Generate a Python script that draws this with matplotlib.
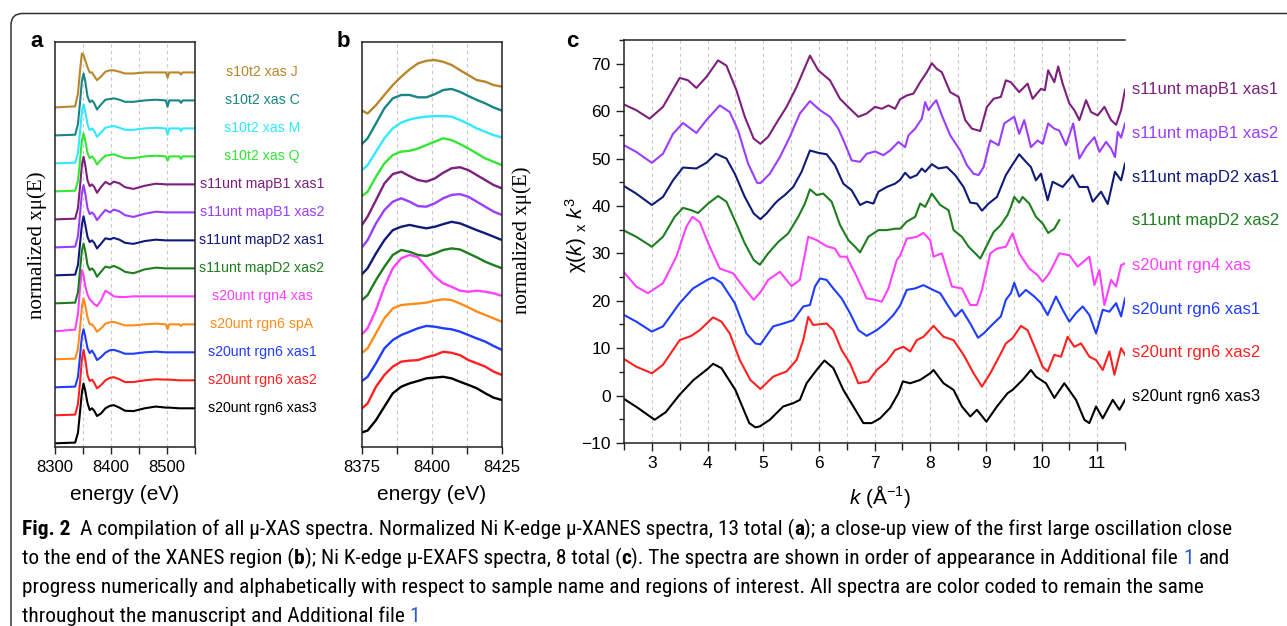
"""Fig. 2 - micro-XAS spectra: XANES (a), XANES close-up (b), EXAFS (c)."""

import matplotlib

matplotlib.use("Agg")
import matplotlib.pyplot as plt
from matplotlib.patches import PathPatch
from matplotlib.path import Path
from matplotlib.ticker import MultipleLocator

W, H = 1287, 626
SANS = "Liberation Sans"
SERIF = "Liberation Serif"
CAPTION = ["Roboto Condensed", "DejaVu Sans Condensed", "Liberation Sans Narrow",
           "Open Sans", "DejaVu Sans"]
LN = "#222222"
GRID = "#c8c8c8"

plt.rcParams.update({
    "font.family": SANS,
    "mathtext.fontset": "custom",
    "mathtext.rm": SANS,
    "mathtext.it": SANS + ":italic",
    "mathtext.bf": SANS + ":bold",
    "axes.linewidth": 1.1,
    "axes.edgecolor": LN,
})

# ------------------------------------------------------------------
# data: names (bottom -> top) and colours
# ------------------------------------------------------------------
names = ["s20unt rgn6 xas3", "s20unt rgn6 xas2", "s20unt rgn6 xas1",
         "s20unt rgn6 spA", "s20unt rgn4 xas", "s11unt mapD2 xas2",
         "s11unt mapD2 xas1", "s11unt mapB1 xas2", "s11unt mapB1 xas1",
         "s10t2 xas Q", "s10t2 xas M", "s10t2 xas C", "s10t2 xas J"]
colors = ["#000000", "#ff2020", "#1f3cff", "#ff8c1a", "#ff40ff", "#1e7d1e",
          "#101a78", "#9b3dff", "#7d1f7d", "#33e633", "#30e8ff", "#1a8585",
          "#b8862b"]

# panel a: normalized XANES
E_A = [8300, 8336, 8341, 8345, 8348, 8351, 8354, 8358, 8362, 8366, 8370, 8375,
       8382, 8390, 8398, 8405, 8415, 8425, 8440, 8460, 8480, 8498, 8501, 8504,
       8522, 8525, 8528, 8550]
a_xas3 = [0.00, 0.02, 0.30, 0.95, 1.45, 1.71, 1.50, 1.15, 0.95, 1.00, 0.93, 0.78, 0.85, 1.00,
          1.07, 1.09, 1.02, 0.93, 0.92, 1.00, 1.05, 1.02, 1.02, 1.02, 1.00, 1.00, 1.00, 1.00]
a_xas2 = [0.00, 0.02, 0.32, 1.00, 1.60, 1.87, 1.60, 1.15, 0.98, 1.02, 0.93, 0.77, 0.86, 1.00,
          1.07, 1.09, 1.03, 0.95, 0.95, 1.00, 1.03, 1.02, 1.02, 1.02, 1.00, 1.00, 1.00, 1.00]
a_xas1 = [0.00, 0.02, 0.30, 0.95, 1.45, 1.66, 1.45, 1.12, 0.98, 1.05, 0.95, 0.78, 0.86, 0.99,
          1.06, 1.07, 1.02, 0.96, 0.96, 1.00, 1.02, 1.00, 1.00, 1.00, 1.00, 1.00, 1.00, 1.00]
a_spA = [0.00, 0.02, 0.30, 0.95, 1.50, 1.74, 1.55, 1.20, 1.00, 1.00, 0.92, 0.79, 0.88, 1.02,
         1.06, 1.07, 1.02, 0.97, 0.97, 1.00, 1.02, 1.00, 0.86, 1.00, 1.00, 0.95, 1.00, 1.00]
a_rgn4 = [0.00, 0.05, 0.50, 1.30, 1.75, 1.60, 1.30, 1.05, 0.92, 0.85, 0.78, 0.72, 0.88, 1.16,
          1.08, 1.00, 0.98, 0.98, 1.00, 1.00, 1.00, 1.00, 1.00, 1.00, 1.00, 1.00, 1.00, 1.00]
a_d2x2 = [0.00, 0.02, 0.32, 1.00, 1.50, 1.71, 1.50, 1.10, 0.95, 1.00, 0.93, 0.76, 0.90, 1.05,
          1.02, 1.07, 1.00, 0.90, 0.86, 0.97, 1.02, 1.00, 1.00, 1.00, 1.00, 1.00, 1.00, 1.00]
a_d2x1 = [0.00, 0.02, 0.30, 0.95, 1.45, 1.69, 1.45, 1.10, 0.95, 1.00, 0.93, 0.77, 0.90, 1.06,
          1.03, 1.07, 1.02, 0.93, 0.90, 0.98, 1.02, 1.00, 1.00, 1.00, 1.00, 1.00, 1.00, 1.00]
a_b1x2 = [0.00, 0.02, 0.32, 1.00, 1.55, 1.78, 1.55, 1.12, 0.95, 1.00, 0.93, 0.78, 0.92, 1.07,
          1.00, 1.08, 1.03, 0.92, 0.87, 0.96, 1.02, 1.00, 1.00, 1.00, 1.00, 1.00, 1.00, 1.00]
a_b1x1 = [0.00, 0.02, 0.32, 1.00, 1.55, 1.79, 1.55, 1.12, 0.95, 1.00, 0.93, 0.76, 0.92, 1.07,
          1.00, 1.08, 1.03, 0.92, 0.87, 0.96, 1.02, 1.00, 1.00, 1.00, 1.00, 1.00, 1.00, 1.00]
a_Q = [0.00, 0.02, 0.30, 0.95, 1.45, 1.66, 1.45, 1.10, 0.95, 1.00, 0.93, 0.77, 0.90, 1.02,
       1.04, 1.06, 1.00, 0.95, 0.95, 1.00, 1.02, 1.00, 0.88, 1.00, 1.00, 0.93, 1.00, 1.00]
a_M = [0.00, 0.02, 0.30, 0.95, 1.48, 1.69, 1.48, 1.12, 0.95, 1.00, 0.93, 0.76, 0.88, 1.02,
       1.05, 1.07, 1.02, 0.96, 0.96, 1.00, 1.02, 1.00, 0.82, 1.00, 1.00, 0.93, 1.00, 1.00]
a_C = [0.00, 0.02, 0.32, 1.00, 1.55, 1.77, 1.55, 1.12, 0.95, 1.00, 0.92, 0.74, 0.88, 1.02,
       1.04, 1.06, 1.02, 0.96, 0.96, 1.00, 1.02, 1.00, 0.82, 1.00, 1.00, 0.93, 1.00, 1.00]
a_J = [0.00, 0.03, 0.40, 1.10, 1.54, 1.50, 1.35, 1.15, 1.00, 1.00, 0.90, 0.78, 0.88, 1.02,
       1.06, 1.06, 1.02, 0.97, 0.97, 1.00, 1.00, 1.00, 0.85, 1.00, 1.00, 0.94, 1.00, 1.00]

# panel b: close-up of the first oscillation
E_B = [8375, 8377, 8380, 8383, 8386, 8389, 8392, 8395, 8398, 8401, 8404, 8407,
       8410, 8413, 8416, 8419, 8422, 8425]
b_xas3 = [0.56, 0.63, 1.03, 1.55, 2.06, 2.31, 2.44, 2.53, 2.63, 2.66, 2.69, 2.63, 2.50, 2.38, 2.25, 2.06, 1.89, 1.80]
b_xas2 = [0.48, 0.67, 1.31, 1.76, 2.08, 2.27, 2.31, 2.33, 2.44, 2.52, 2.65, 2.61, 2.52, 2.33, 2.21, 2.08, 1.89, 1.76]
b_xas1 = [0.53, 0.69, 1.21, 1.78, 2.10, 2.29, 2.42, 2.55, 2.64, 2.61, 2.55, 2.51, 2.42, 2.29, 2.16, 2.04, 1.87, 1.72]
b_spA = [0.61, 0.78, 1.36, 1.93, 2.31, 2.44, 2.47, 2.50, 2.53, 2.61, 2.66, 2.63, 2.50, 2.35, 2.19, 2.06, 1.93, 1.80]
b_rgn4 = [0.32, 0.55, 1.25, 2.14, 2.85, 3.23, 3.36, 3.27, 2.91, 2.53, 2.27, 2.14, 1.99, 1.95, 1.99, 1.95, 1.89, 1.79]
b_d2x2 = [0.63, 0.82, 1.40, 1.91, 2.36, 2.55, 2.48, 2.36, 2.32, 2.42, 2.55, 2.61, 2.57, 2.42, 2.27, 2.10, 1.97, 1.85]
b_d2x1 = [0.62, 0.85, 1.42, 1.93, 2.31, 2.44, 2.51, 2.44, 2.38, 2.44, 2.54, 2.63, 2.57, 2.44, 2.31, 2.19, 2.06, 1.93]
b_b1x2 = [0.65, 0.93, 1.57, 2.08, 2.40, 2.53, 2.40, 2.23, 2.21, 2.34, 2.53, 2.66, 2.69, 2.59, 2.40, 2.21, 2.02, 1.89]
b_b1x1 = [0.51, 0.83, 1.46, 2.10, 2.46, 2.55, 2.38, 2.23, 2.17, 2.29, 2.51, 2.68, 2.72, 2.61, 2.42, 2.23, 2.04, 1.91]
b_Q = [0.62, 0.78, 1.36, 1.87, 2.19, 2.32, 2.35, 2.44, 2.57, 2.70, 2.83, 2.76, 2.61, 2.44, 2.25, 2.06, 1.93, 1.80]
b_M = [0.61, 0.80, 1.32, 1.83, 2.21, 2.43, 2.55, 2.62, 2.66, 2.68, 2.68, 2.66, 2.53, 2.38, 2.21, 2.08, 1.95, 1.86]
b_C = [0.61, 0.83, 1.40, 1.98, 2.36, 2.49, 2.49, 2.40, 2.40, 2.52, 2.68, 2.72, 2.61, 2.45, 2.30, 2.17, 2.01, 1.89]
b_J = [0.89, 0.78, 1.10, 1.49, 1.87, 2.19, 2.47, 2.70, 2.80, 2.83, 2.76, 2.64, 2.44, 2.25, 2.06, 2.00, 1.87, 1.81]

# panel c: k^3-weighted EXAFS (values as plotted, offsets included)
k_xas3 = [2.50, 2.75, 3.05, 3.25, 3.50, 3.75, 4.00, 4.10, 4.25, 4.50, 4.75, 4.86, 4.94, 5.12,
          5.36, 5.54, 5.66, 5.78, 5.96, 6.10, 6.26, 6.44, 6.62, 6.80, 6.95, 7.10, 7.28, 7.43,
          7.51, 7.64, 7.82, 8.00, 8.06, 8.24, 8.42, 8.57, 8.72, 8.84, 9.01, 9.20, 9.39, 9.48,
          9.66, 9.81, 9.90, 10.08, 10.23, 10.41, 10.62, 10.77, 10.86, 10.98, 11.10, 11.28,
          11.40, 11.50]
chi_xas3 = [-0.7, -2.6, -5.1, -3.5, 0.2, 3.3, 5.6, 6.7, 5.8, 1.2, -5.8, -6.7, -6.5, -5.1,
            -2.3, -1.6, -0.9, 2.6, 5.4, 7.4, 5.8, 1.2, -2.3, -5.8, -5.8, -4.8, -2.6, 0.5,
            3.0, 2.6, 3.3, 4.7, 5.4, 2.6, 1.2, -2.3, -4.4, -3.0, -5.5, -2.3, 0.5, 1.2,
            3.3, 5.4, 4.0, 2.6, -0.5, 2.6, -0.9, -5.1, -5.8, -2.3, -4.8, -0.9, -3.0, -0.9]
k_xas2 = [2.50, 2.72, 3.00, 3.20, 3.50, 3.71, 3.86, 4.10, 4.25, 4.40, 4.58, 4.77, 4.95, 5.18,
          5.42, 5.60, 5.72, 5.81, 5.90, 6.14, 6.26, 6.41, 6.56, 6.71, 6.89, 7.04, 7.22, 7.37,
          7.52, 7.64, 7.76, 7.88, 8.06, 8.24, 8.42, 8.60, 8.78, 8.93, 9.08, 9.27, 9.36, 9.48,
          9.63, 9.75, 9.90, 10.02, 10.11, 10.23, 10.35, 10.47, 10.59, 10.71, 10.86, 10.98,
          11.10, 11.22, 11.31, 11.43, 11.50]
chi_xas2 = [7.7, 6.1, 4.7, 6.5, 11.7, 12.6, 13.8, 16.5, 15.6, 13.1, 7.5, 3.3, 1.4, 4.0,
            5.1, 7.5, 11.7, 16.6, 14.9, 15.2, 13.8, 9.6, 6.8, 2.6, 3.0, 5.4, 7.2, 9.6,
            10.3, 9.3, 11.7, 12.4, 14.7, 12.4, 11.7, 8.6, 4.7, 1.9, 4.7, 8.9, 11.0, 12.1,
            14.7, 13.8, 9.6, 6.1, 5.1, 8.6, 8.2, 12.4, 10.3, 11.0, 8.2, 7.5,
            5.4, 9.3, 4.4, 10.0, 8.6]
k_xas1 = [2.50, 2.72, 3.00, 3.20, 3.50, 3.74, 4.01, 4.10, 4.25, 4.49, 4.70, 4.86, 4.95, 5.18,
          5.36, 5.54, 5.72, 5.84, 5.93, 6.02, 6.14, 6.26, 6.41, 6.56, 6.71, 6.86, 7.04, 7.19,
          7.34, 7.46, 7.58, 7.73, 7.88, 8.03, 8.18, 8.33, 8.45, 8.57, 8.72, 8.86, 8.96, 9.11,
          9.27, 9.36, 9.45, 9.51, 9.60, 9.72, 9.87, 9.99, 10.11, 10.26, 10.38, 10.50, 10.62,
          10.74, 10.86, 10.98, 11.10, 11.22, 11.34, 11.43, 11.50]
chi_xas1 = [17.0, 15.6, 13.5, 14.6, 19.5, 22.6, 24.5, 24.9, 23.8, 19.5, 13.1, 11.0, 10.8, 14.6,
            15.2, 15.9, 18.8, 19.1, 23.0, 24.7, 24.4, 22.6, 20.5, 17.4, 13.8, 12.6, 13.8, 15.2,
            17.0, 19.0, 22.3, 22.6, 23.3, 22.4, 21.6, 18.8, 16.7, 18.1, 15.2, 12.2, 13.1, 14.9,
            16.7, 20.2, 21.6, 23.8, 20.9, 22.3, 20.9, 19.5, 17.0, 20.9, 18.1, 15.6, 17.4,
            18.8, 17.0, 13.1, 18.1, 17.7, 19.5, 16.7, 20.5]
k_rgn4 = [2.50, 2.72, 2.93, 3.20, 3.44, 3.62, 3.73, 3.86, 4.04, 4.22, 4.46, 4.64, 4.83, 4.95,
          5.09, 5.30, 5.51, 5.66, 5.81, 5.96, 6.14, 6.29, 6.38, 6.50, 6.68, 6.86, 7.01, 7.13,
          7.25, 7.40, 7.46, 7.58, 7.76, 7.88, 8.00, 8.06, 8.21, 8.30, 8.39, 8.57, 8.72, 8.84,
          8.93, 9.08, 9.20, 9.36, 9.48, 9.60, 9.78, 9.93, 10.02, 10.14, 10.32, 10.50, 10.65,
          10.86, 10.95, 11.04, 11.13, 11.25, 11.34, 11.43, 11.50]
chi_rgn4 = [26.0, 23.0, 21.6, 23.7, 29.3, 35.6, 37.7, 36.6, 31.4, 26.8, 25.8, 23.0, 20.2, 21.8,
            24.4, 26.1, 23.1, 24.4, 33.5, 32.8, 31.5, 31.0, 29.3, 29.3, 25.1, 20.5, 20.2, 19.8,
            22.6, 28.6, 29.5, 33.1, 33.5, 34.3, 32.8, 29.3, 30.0, 26.5, 23.0, 22.6, 19.1, 19.1,
            22.3, 30.0, 31.0, 31.4, 34.2, 30.0, 26.8, 25.4, 24.0, 25.8, 30.0, 29.6, 27.2,
            29.3, 23.3, 26.5, 19.1, 24.4, 23.0, 27.5, 27.9]
k_d2x2 = [2.50, 2.72, 3.00, 3.20, 3.41, 3.56, 3.71, 3.83, 4.01, 4.19, 4.34, 4.49, 4.67, 4.83,
          4.94, 5.09, 5.27, 5.45, 5.63, 5.75, 5.84, 5.96, 6.08, 6.23, 6.38, 6.53, 6.65, 6.74,
          6.89, 7.07, 7.22, 7.37, 7.46, 7.58, 7.73, 7.82, 7.91, 8.03, 8.18, 8.33, 8.42, 8.57,
          8.69, 8.81, 8.90, 9.02, 9.14, 9.27, 9.39, 9.45, 9.51, 9.60, 9.66, 9.78, 9.90,
          10.02, 10.12, 10.23, 10.32]
chi_d2x2 = [34.8, 33.5, 31.4, 33.5, 37.7, 39.6, 39.1, 38.5, 40.5, 42.1, 40.9, 37.0, 32.1, 28.6,
            27.6, 30.0, 32.4, 34.2, 37.7, 40.5, 43.5, 42.3, 42.6, 40.9, 36.0, 32.8, 31.4, 30.2,
            33.5, 34.9, 34.9, 35.2, 35.2, 36.7, 37.7, 40.5, 39.8, 42.6, 40.2, 39.1, 34.9, 33.5,
            31.4, 30.0, 28.9, 31.7, 34.5, 36.0, 38.1, 39.8, 41.9, 40.7, 41.9, 40.5, 37.7,
            36.3, 34.3, 35.2, 37.0]
k_d2x1 = [2.50, 2.72, 3.00, 3.20, 3.38, 3.56, 3.80, 3.98, 4.15, 4.34, 4.49, 4.67, 4.83, 4.95,
          5.06, 5.21, 5.27, 5.39, 5.54, 5.69, 5.84, 5.99, 6.14, 6.29, 6.44, 6.59, 6.74, 6.86,
          6.98, 7.07, 7.22, 7.37, 7.46, 7.55, 7.64, 7.76, 7.85, 7.91, 8.03, 8.15, 8.30, 8.45,
          8.60, 8.72, 8.84, 8.93, 9.05, 9.20, 9.36, 9.45, 9.60, 9.72, 9.81, 9.90, 9.99, 10.11,
          10.20, 10.38, 10.56, 10.68, 10.83, 10.92, 11.07, 11.19, 11.32, 11.43, 11.50]
chi_d2x1 = [44.2, 42.6, 40.2, 41.9, 45.4, 48.1, 47.9, 49.1, 51.0, 50.0, 46.8, 41.9, 38.4, 37.2,
            38.4, 40.5, 41.2, 42.3, 44.0, 47.2, 51.7, 51.2, 50.9, 48.6, 44.7, 43.3, 40.2, 40.9,
            40.5, 43.0, 44.0, 44.7, 45.5, 47.0, 45.9, 46.5, 47.9, 47.2, 48.8, 47.9, 48.2, 46.5,
            44.0, 40.7, 40.5, 39.0, 40.5, 41.9, 46.5, 48.2, 50.9, 49.3, 48.2, 45.4, 46.8, 41.2,
            45.1, 44.0, 46.5, 44.0, 44.0, 40.9, 43.0, 40.4, 47.2, 45.4, 48.9]
k_b1x2 = [2.50, 2.72, 3.00, 3.20, 3.38, 3.56, 3.80, 3.98, 4.22, 4.40, 4.55, 4.73, 4.89, 4.95,
          5.12, 5.30, 5.48, 5.66, 5.84, 6.02, 6.20, 6.35, 6.47, 6.59, 6.74, 6.86, 7.01, 7.16,
          7.28, 7.43, 7.55, 7.61, 7.73, 7.85, 7.91, 7.97, 8.03, 8.11, 8.21, 8.36, 8.54, 8.66,
          8.78, 8.87, 8.96, 9.08, 9.23, 9.33, 9.42, 9.51, 9.60, 9.69, 9.81, 9.93, 10.02, 10.12,
          10.23, 10.32, 10.44, 10.57, 10.68, 10.80, 10.95, 11.04, 11.16, 11.25, 11.32, 11.37,
          11.43, 11.50]
chi_b1x2 = [52.8, 51.4, 49.1, 51.0, 55.2, 57.5, 55.4, 58.1, 61.2, 59.8, 55.9, 48.9, 44.9, 44.8,
            46.8, 50.3, 54.6, 59.5, 62.1, 60.2, 58.8, 56.3, 53.1, 49.6, 49.3, 51.0, 51.5, 50.7,
            51.7, 53.5, 52.4, 54.9, 56.3, 58.4, 61.9, 60.2, 61.2, 62.3, 59.1, 54.9, 51.7, 48.6,
            46.8, 46.5, 48.2, 53.8, 52.8, 57.4, 58.1, 58.8, 55.2, 58.1, 52.4, 53.8, 53.1, 57.4,
            56.3, 55.9, 52.8, 57.4, 50.0, 52.4, 54.5, 51.4, 53.5, 52.1, 50.3, 55.6,
            54.4, 57.4]
k_b1x1 = [2.50, 2.72, 2.96, 3.20, 3.50, 3.65, 3.80, 3.98, 4.19, 4.34, 4.52, 4.67, 4.83, 4.95,
          5.09, 5.27, 5.42, 5.60, 5.84, 5.99, 6.20, 6.38, 6.56, 6.71, 6.86, 7.01, 7.13, 7.25,
          7.37, 7.46, 7.58, 7.70, 7.82, 7.94, 8.03, 8.12, 8.21, 8.36, 8.51, 8.63, 8.75, 8.90,
          9.02, 9.14, 9.27, 9.36, 9.45, 9.60, 9.75, 9.84, 9.99, 10.06, 10.12, 10.23, 10.30,
          10.38, 10.50, 10.59, 10.68, 10.80, 10.89, 11.01, 11.13, 11.25, 11.34, 11.43, 11.50]
chi_b1x1 = [61.4, 60.2, 58.4, 60.9, 67.0, 66.5, 64.9, 67.2, 70.7, 69.6, 64.4, 58.8, 54.2, 53.1,
            54.6, 58.1, 60.9, 65.1, 71.7, 68.6, 66.5, 62.6, 60.5, 58.8, 59.5, 60.9, 60.5, 61.2,
            60.5, 62.5, 63.3, 63.7, 66.1, 68.2, 70.1, 68.9, 68.2, 64.0, 63.0, 58.1, 56.3, 55.8,
            60.9, 62.6, 63.0, 66.5, 66.1, 64.0, 65.8, 62.6, 64.7, 64.4, 68.6, 66.1, 69.4,
            65.8, 61.6, 60.2, 58.1, 62.3, 59.8, 59.1, 60.9, 58.1, 57.1, 60.2, 64.5]

xanes_a = [a_xas3, a_xas2, a_xas1, a_spA, a_rgn4, a_d2x2, a_d2x1, a_b1x2, a_b1x1,
           a_Q, a_M, a_C, a_J]
xanes_b = [b_xas3, b_xas2, b_xas1, b_spA, b_rgn4, b_d2x2, b_d2x1, b_b1x2, b_b1x1,
           b_Q, b_M, b_C, b_J]
exafs = [(k_xas3, chi_xas3, 0), (k_xas2, chi_xas2, 1), (k_xas1, chi_xas1, 2),
         (k_rgn4, chi_rgn4, 4), (k_d2x2, chi_d2x2, 5), (k_d2x1, chi_d2x1, 6),
         (k_b1x2, chi_b1x2, 7), (k_b1x1, chi_b1x1, 8)]

# ------------------------------------------------------------------
fig = plt.figure(figsize=(W / 100, H / 100), dpi=100)


def rect(left, top, width, height):
    return [left / W, 1 - (top + height) / H, width / W, height / H]


def fx(px):
    return px / W


def fy(py):
    return 1 - py / H


def vgrid(ax, xs):
    for x in xs:
        ax.axvline(x, color=GRID, lw=0.8, ls=(0, (3, 3)), zorder=0)


ax_a = fig.add_axes(rect(55, 42, 140, 405))
ax_b = fig.add_axes(rect(362, 42, 140, 405))
ax_c = fig.add_axes(rect(624, 40, 501, 403))

# ---------------- panel a ----------------
OFF_A = 0.8
for i, vals in enumerate(xanes_a):
    ax_a.plot(E_A, [v + OFF_A * i for v in vals], color=colors[i], lw=1.5)
    ax_a.text(8669.6, OFF_A * i + 1.0, names[i], color=colors[i], fontsize=10.2,
              ha="center", va="center", clip_on=False)
ax_a.set_xlim(8300, 8550)
ax_a.set_ylim(-0.106, 11.47)
ax_a.xaxis.set_major_locator(MultipleLocator(100))
ax_a.xaxis.set_minor_locator(MultipleLocator(50))
vgrid(ax_a, [8350, 8400, 8450, 8500])

# ---------------- panel b ----------------
for i, vals in enumerate(xanes_b):
    ax_b.plot(E_B, [v + i for v in vals], color=colors[i], lw=1.7)
ax_b.set_xlim(8375, 8425)
ax_b.set_ylim(0, 15.52)
ax_b.xaxis.set_major_locator(MultipleLocator(25))
ax_b.xaxis.set_minor_locator(MultipleLocator(12.5))
vgrid(ax_b, [8387.5, 8400, 8412.5])

for ax in (ax_a, ax_b):
    ax.tick_params(axis="y", left=False, labelleft=False)
    ax.tick_params(axis="x", which="both", direction="out", length=5, width=1.0,
                   labelsize=12, pad=4, color=LN)
    for sp in ax.spines.values():
        sp.set_color(LN)

# ---------------- panel c ----------------
label_y = [-0.2, 9.1, 18.2, 27.5, 37.0, 46.1, 55.3, 64.5]
for (k, chi, ci), ly in zip(exafs, label_y):
    ax_c.plot(k, chi, color=colors[ci], lw=1.5)
    ax_c.text(11.62, ly, names[ci], color=colors[ci], fontsize=12,
              ha="left", va="center", clip_on=False)
ax_c.set_xlim(2.5, 11.5)
ax_c.xaxis.set_major_locator(MultipleLocator(1))
ax_c.xaxis.set_minor_locator(MultipleLocator(0.5))
ax_c.yaxis.set_minor_locator(MultipleLocator(5))
ax_c.set_yticks(range(-10, 71, 10))
ax_c.set_ylim(-10, 75)
vgrid(ax_c, [3 + 0.5 * j for j in range(17)])
ax_c.spines["right"].set_visible(False)
ax_c.tick_params(axis="both", which="major", direction="out", length=5.5, width=1.0,
                 labelsize=12.5, pad=4, color=LN)
ax_c.tick_params(axis="both", which="minor", direction="out", length=3.5, width=1.0,
                 color=LN)
ax_c.tick_params(axis="x", which="minor", length=5)
for sp in ax_c.spines.values():
    sp.set_color(LN)

# ---------------- axis titles ----------------
fig.text(fx(37), fy(245), "normalized xμ(E)", family=SERIF, fontsize=15,
         rotation=90, ha="center", va="center")
fig.text(fx(522), fy(240), "normalized xμ(E)", family=SERIF, fontsize=15,
         rotation=90, ha="center", va="center")
fig.text(fx(125), fy(494), "energy (eV)", fontsize=15, ha="center", va="center")
fig.text(fx(432), fy(494), "energy (eV)", fontsize=15, ha="center", va="center")
fig.text(fx(576), fy(235), r"$\mathrm{\chi}(k)$ ${}_{\mathrm{x}}$ $k^{3}$", fontsize=15,
         rotation=90, ha="center", va="center")
fig.text(fx(880), fy(496), r"$k$ (Å$^{-1}$)", fontsize=15, ha="center", va="center")

for x, letter in [(30, "a"), (337, "b"), (566, "c")]:
    fig.text(fx(x), fy(47), letter, fontsize=16, fontweight="bold",
             ha="left", va="baseline")

# ---------------- frame ----------------
verts = [(fx(11), fy(626)), (fx(11), fy(25)), (fx(11), fy(13.5)),
         (fx(22.5), fy(13.5)), (fx(1287), fy(13.5))]
codes = [Path.MOVETO, Path.LINETO, Path.CURVE3, Path.CURVE3, Path.LINETO]
fig.add_artist(PathPatch(Path(verts, codes), transform=fig.transFigure,
                         fill=False, lw=1.1, edgecolor="#333333"))

# ---------------- caption ----------------
BLUE = "#2a5bd7"
cap_lines = [
    (530, [("Fig. 2", True, "black"),
           ("  A compilation of all μ-XAS spectra. Normalized Ni K-edge μ-XANES "
            "spectra, 13 total (", False, "black"),
           ("a", True, "black"),
           ("); a close-up view of the first large oscillation close", False, "black")]),
    (559, [("to the end of the XANES region (", False, "black"),
           ("b", True, "black"),
           ("); Ni K-edge μ-EXAFS spectra, 8 total (", False, "black"),
           ("c", True, "black"),
           ("). The spectra are shown in order of appearance in Additional file ",
            False, "black"),
           ("1", False, BLUE),
           (" and", False, "black")]),
    (588, [("progress numerically and alphabetically with respect to sample name and "
            "regions of interest. All spectra are color coded to remain the same",
            False, "black")]),
    (617, [("throughout the manuscript and Additional file ", False, "black"),
           ("1", False, BLUE)]),
]

renderer = fig.canvas.get_renderer()


def text_width(txt, size, bold):
    t = fig.text(0, 0, txt, fontsize=size, family=CAPTION,
                 fontweight="bold" if bold else "normal")
    w = t.get_window_extent(renderer).width
    t.remove()
    return w


def line_width(pieces, size):
    sp = text_width("x x", size, False) - text_width("xx", size, False)
    total = 0.0
    for txt, bold, _ in pieces:
        core = txt.strip(" ")
        lead = len(txt) - len(txt.lstrip(" "))
        trail = len(txt) - len(txt.rstrip(" "))
        total += (lead + trail) * sp + (text_width(core, size, bold) if core else 0)
    return total


cap_size = 12.0
cap_size *= 1211.0 / line_width(cap_lines[0][1], cap_size)


def draw_caption_line(y_px, pieces, size):
    sp = text_width("x x", size, False) - text_width("xx", size, False)
    x = 22.0
    for txt, bold, color in pieces:
        core = txt.strip(" ")
        x += (len(txt) - len(txt.lstrip(" "))) * sp
        if core:
            t = fig.text(fx(x), fy(y_px), core, fontsize=size, family=CAPTION,
                         fontweight="bold" if bold else "normal", color=color,
                         ha="left", va="baseline")
            x += t.get_window_extent(renderer).width
        x += (len(txt) - len(txt.rstrip(" "))) * sp


for y_px, pieces in cap_lines:
    draw_caption_line(y_px + 5, pieces, cap_size)

fig.savefig("out.png", dpi=100)
